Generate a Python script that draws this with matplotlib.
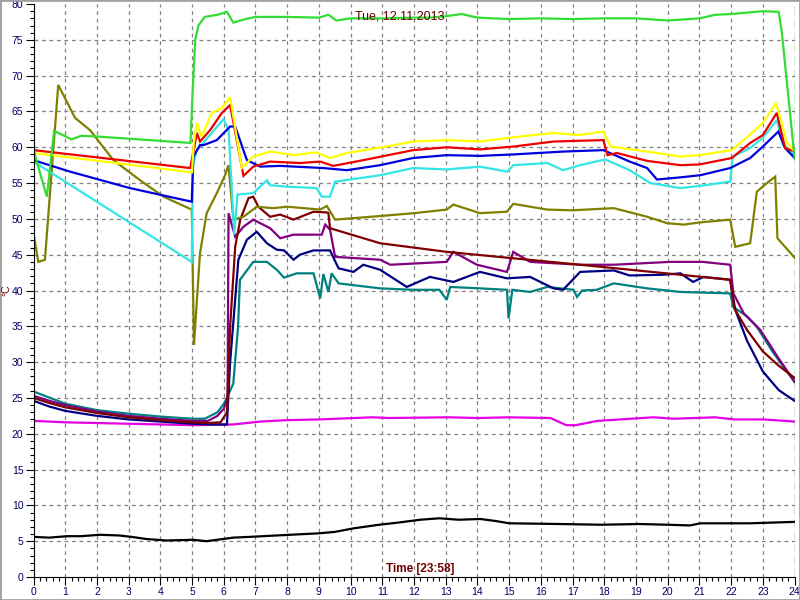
import matplotlib
matplotlib.use("Agg")
import matplotlib.pyplot as plt
from matplotlib.ticker import MultipleLocator
from matplotlib.patches import Rectangle

# temperature log, hours 0..24
green_x = [0, 0.42, 0.65, 1.2, 1.5, 2.0, 3.0, 4.0, 4.95, 5.02, 5.1, 5.2, 5.4, 5.8, 6.1, 6.3, 6.6, 7.0, 8.0, 9.0, 9.3, 9.55, 10, 11, 12, 12.5, 13, 13.5, 14, 15, 16, 17, 18, 19, 20, 21, 21.5, 22, 22.5, 23, 23.5, 23.6, 24]
green_y = [59.6, 53.1, 62.3, 61.1, 61.6, 61.5, 61.2, 60.9, 60.6, 68, 75, 77, 78.2, 78.5, 78.9, 77.4, 77.8, 78.2, 78.2, 78.1, 78.5, 77.7, 78, 78, 78.1, 78.1, 78.3, 78.6, 78.1, 77.9, 78, 77.9, 78, 78, 77.7, 78, 78.5, 78.6, 78.8, 79, 78.9, 76, 58.5]

yellow_x = [0, 5.0, 5.05, 5.15, 5.3, 5.62, 5.94, 6.2, 6.57, 6.93, 7.46, 8.2, 8.9, 9.35, 9.88, 11.0, 11.97, 13.03, 14.08, 15.13, 16.4, 17.2, 17.97, 18.2, 19.35, 20.4, 21.0, 22.02, 22.4, 23.0, 23.42, 23.76, 24.0]
yellow_y = [59.2, 56.5, 60.5, 63.4, 61.5, 64.8, 65.5, 67.0, 57.1, 58.7, 59.4, 58.9, 59.3, 58.5, 59.2, 60.0, 60.8, 61.0, 60.8, 61.4, 62.0, 61.7, 62.2, 60.1, 59.4, 58.7, 58.9, 59.6, 61.0, 63.4, 66.2, 60.6, 59.4]

red_x = [0, 4.94, 5.05, 5.15, 5.25, 5.57, 5.94, 6.2, 6.62, 6.93, 7.46, 8.4, 9.04, 9.45, 10.4, 11.97, 13.03, 14.08, 15.13, 16.4, 17.97, 18.1, 18.4, 19.35, 20.4, 21.0, 22.02, 22.6, 23.0, 23.44, 23.7, 24.0]
red_y = [59.6, 57.1, 59.5, 62.0, 60.8, 62.4, 64.8, 65.9, 56.0, 57.3, 58.0, 57.8, 58.0, 57.4, 58.2, 59.6, 60.0, 59.7, 60.1, 60.8, 61.0, 58.9, 59.2, 58.1, 57.5, 57.6, 58.5, 60.6, 61.7, 64.8, 59.9, 59.4]

blue_x = [0, 1.15, 3.04, 4.99, 5.04, 5.25, 5.36, 5.78, 6.2, 6.36, 6.73, 7.15, 7.78, 9.14, 9.88, 10.93, 11.97, 13.03, 14.08, 15.13, 16.7, 17.97, 18.8, 19.35, 19.66, 20.4, 21.03, 21.97, 22.6, 23.0, 23.49, 23.7, 24.0]
blue_y = [58.2, 56.6, 54.3, 52.4, 58.7, 60.3, 60.3, 61.0, 62.9, 62.9, 58.2, 57.3, 57.4, 57.1, 56.8, 57.5, 58.5, 58.9, 58.8, 59.0, 59.4, 59.6, 58.0, 57.1, 55.5, 55.8, 56.1, 57.1, 58.5, 60.1, 62.2, 59.9, 58.5]

cyan_x = [0, 4.99, 5.03, 5.15, 5.99, 6.15, 6.33, 6.43, 6.93, 7.36, 7.46, 8.0, 8.93, 9.09, 9.35, 9.51, 10.93, 11.97, 13.03, 14.08, 14.93, 15.13, 16.2, 16.7, 17.24, 18.03, 18.8, 19.45, 20.4, 21.0, 21.97, 22.05, 22.6, 23.0, 23.44, 23.64, 24.0]
cyan_y = [58.0, 44.0, 57.5, 59.6, 63.9, 62.5, 47.8, 53.4, 53.6, 55.4, 54.7, 54.5, 54.3, 53.1, 53.1, 55.2, 56.1, 57.1, 56.9, 57.3, 56.6, 57.5, 57.8, 56.8, 57.5, 58.3, 56.8, 55.0, 54.3, 54.6, 55.2, 58.7, 59.9, 61.3, 63.8, 60.3, 58.9]

olive_x = [0, 0.15, 0.36, 0.78, 1.31, 1.78, 2.52, 3.36, 4.1, 4.99, 5.06, 5.25, 5.46, 5.78, 6.04, 6.15, 6.3, 6.62, 7.04, 7.56, 8.0, 9.04, 9.25, 9.51, 10.93, 12.0, 13.03, 13.24, 14.08, 14.93, 15.13, 16.2, 17.0, 18.3, 19.35, 19.98, 20.5, 21.0, 21.97, 22.13, 22.6, 22.81, 23.13, 23.39, 23.46, 24.0]
olive_y = [48.0, 44.0, 44.3, 68.7, 64.1, 62.4, 58.2, 55.4, 53.1, 51.3, 32.4, 45.2, 50.8, 53.6, 56.1, 57.5, 49.9, 50.3, 51.7, 51.5, 51.7, 51.3, 51.8, 49.9, 50.4, 50.8, 51.3, 52.0, 50.8, 51.0, 52.1, 51.3, 51.2, 51.5, 50.3, 49.4, 49.2, 49.5, 49.9, 46.1, 46.6, 53.8, 55.0, 55.9, 47.3, 44.6]

maroon_x = [0, 0.5, 1, 2, 3, 4, 5, 5.5, 5.9, 6.1, 6.2, 6.36, 6.52, 6.78, 6.93, 7.09, 7.46, 7.78, 8.2, 8.83, 9.25, 9.3, 9.35, 10.93, 13.03, 15.13, 17.24, 20.4, 21.97, 22.1, 22.5, 23, 23.5, 24]
maroon_y = [25.0, 24.3, 23.7, 22.9, 22.3, 21.9, 21.6, 21.5, 21.6, 23, 35, 46.1, 49.9, 52.9, 53.1, 51.7, 50.3, 50.6, 49.9, 51.0, 50.9, 50.8, 48.7, 46.6, 45.4, 44.5, 43.6, 42.2, 41.5, 37.5, 34.5, 31.5, 29.5, 27.8]

purple_x = [0, 0.5, 1, 2, 3, 4, 5, 5.5, 5.8, 6.0, 6.12, 6.15, 6.36, 6.62, 6.93, 7.15, 7.46, 7.78, 8.2, 9.09, 9.2, 9.35, 9.51, 10.93, 11.25, 13.03, 13.24, 13.98, 14.93, 15.13, 15.66, 17.24, 18.3, 20.08, 21.1, 21.97, 22.07, 22.4, 22.92, 23.5, 24]
purple_y = [25.3, 24.6, 24.0, 23.1, 22.5, 22.1, 21.8, 21.8, 22.5, 23.5, 25, 50.8, 47.5, 48.9, 49.9, 49.4, 48.7, 47.3, 47.8, 47.8, 49.2, 48.5, 44.7, 44.3, 43.6, 44.0, 45.4, 43.6, 42.6, 45.4, 44.0, 43.6, 43.6, 44.0, 44.0, 43.6, 39.6, 36.8, 34.5, 30.5, 27.3]

navy_x = [0, 0.5, 1, 2, 3, 4, 5, 5.5, 6.1, 6.2, 6.46, 6.73, 7.04, 7.36, 7.67, 7.9, 8.2, 8.4, 8.83, 9.35, 9.62, 10.09, 10.4, 10.93, 11.77, 12.5, 13.24, 14.08, 14.93, 15.66, 16.4, 16.7, 17.24, 18.3, 18.8, 19.87, 20.4, 20.8, 21.13, 21.97, 22.13, 22.5, 23.0, 23.5, 24.0]
navy_y = [24.6, 23.8, 23.2, 22.5, 22.0, 21.7, 21.4, 21.3, 21.3, 30, 44.3, 47.1, 48.2, 46.6, 45.7, 45.6, 44.3, 45.0, 45.6, 45.6, 43.1, 42.6, 43.6, 42.9, 40.5, 41.9, 41.2, 42.6, 41.7, 41.9, 40.3, 40.1, 42.6, 42.8, 42.1, 42.2, 42.4, 41.2, 41.9, 41.5, 37.3, 33.0, 28.7, 26.1, 24.6]

teal_x = [0, 1, 2, 3, 4, 5, 5.4, 5.8, 6.02, 6.3, 6.45, 6.51, 6.93, 7.36, 7.67, 7.9, 8.3, 8.83, 9.04, 9.14, 9.3, 9.4, 9.62, 10.93, 11.97, 12.8, 13.03, 13.14, 14.08, 14.93, 14.98, 15.1, 15.66, 16.2, 17.03, 17.14, 17.3, 17.76, 18.3, 19.35, 20.4, 21.97, 22.07, 22.5, 22.8, 23.3, 24.0]
teal_y = [25.9, 24.2, 23.3, 22.8, 22.4, 22.1, 22.1, 23.0, 24.3, 27.0, 35.0, 41.5, 44.0, 44.0, 42.9, 41.8, 42.4, 42.4, 38.9, 42.3, 39.8, 42.4, 41.0, 40.3, 40.1, 40.1, 38.7, 40.5, 40.3, 40.1, 36.1, 40.1, 39.8, 40.5, 40.1, 39.1, 40.0, 40.1, 41.0, 40.3, 39.8, 39.6, 37.7, 36.4, 35.0, 31.5, 27.2]

magenta_x = [0, 1, 2, 3, 4, 5.06, 6.3, 7.15, 7.96, 9, 10.69, 11.2, 13.1, 14, 15, 16.3, 16.8, 17.1, 17.78, 19.55, 20.2, 21.5, 22.1, 23, 23.7, 24]
magenta_y = [21.8, 21.6, 21.5, 21.4, 21.3, 21.2, 21.3, 21.7, 21.9, 22.0, 22.3, 22.2, 22.3, 22.2, 22.3, 22.2, 21.2, 21.2, 21.8, 22.3, 22.1, 22.3, 22.0, 22.0, 21.8, 21.7]

black_x = [0, 0.5, 1.05, 1.5, 2.1, 2.7, 3.1, 3.57, 4.2, 5.04, 5.45, 6.3, 6.8, 8.1, 9.0, 9.5, 10.1, 10.9, 11.5, 12.2, 12.8, 13.4, 14.1, 14.6, 15.0, 16.6, 17.9, 19.1, 20, 20.7, 21.03, 22.6, 24.0]
black_y = [5.6, 5.5, 5.7, 5.7, 5.9, 5.8, 5.6, 5.3, 5.1, 5.2, 5.0, 5.5, 5.6, 5.9, 6.1, 6.3, 6.8, 7.3, 7.6, 8.0, 8.2, 8.0, 8.1, 7.8, 7.5, 7.4, 7.3, 7.4, 7.3, 7.2, 7.5, 7.5, 7.7]

title = "Tue, 12.11.2013"
xlabel = "Time [23:58]"
ylabel = "°C"

series = [
    (black_x, black_y, "#000000"),
    (magenta_x, magenta_y, "#e600e6"),
    (teal_x, teal_y, "#008080"),
    (navy_x, navy_y, "#000080"),
    (purple_x, purple_y, "#800080"),
    (maroon_x, maroon_y, "#800000"),
    (olive_x, olive_y, "#808000"),
    (cyan_x, cyan_y, "#33e6e6"),
    (blue_x, blue_y, "#0000dd"),
    (red_x, red_y, "#ee0000"),
    (yellow_x, yellow_y, "#ffff00"),
    (green_x, green_y, "#33dd33"),
]

plt.rcParams["font.family"] = ["Liberation Sans", "DejaVu Sans"]

fig = plt.figure(figsize=(8, 6), dpi=100)
ax = fig.add_axes([0.0419, 0.0383, 0.9513, 0.955])

for xs, ys, c in series:
    ax.plot(xs, ys, color=c, lw=1.6, solid_joinstyle="miter")

ax.set_xlim(0, 24)
ax.set_ylim(0, 80)
ax.xaxis.set_major_locator(MultipleLocator(1))
ax.xaxis.set_minor_locator(MultipleLocator(0.2))
ax.yaxis.set_major_locator(MultipleLocator(5))
ax.yaxis.set_minor_locator(MultipleLocator(1))
# tick sizes are in points (1 pt = 1.39 px here)
ax.tick_params(which="major", direction="out", length=5.8, width=0.8, color="black",
               labelcolor="#000066", labelsize=7.5, pad=1.5)
ax.tick_params(which="minor", direction="out", length=2.7, width=0.8, color="black")

# dashed grid, skipping the edges
for v in range(1, 24):
    ax.axvline(v, color="#808080", lw=0.9, ls=(0, (3, 3)), zorder=0)
for v in range(5, 80, 5):
    ax.axhline(v, color="#808080", lw=0.9, ls=(0, (3, 3)), zorder=0)
ax.axvline(24, color="#008000", lw=1, ls=(0, (6, 3)))

ax.spines["top"].set_visible(False)
ax.spines["right"].set_visible(False)

fig.text(0.5, 0.972, title, color="#660000", fontsize=9, ha="center", va="center", zorder=10)
fig.text(0.525, 0.052, xlabel, color="#700000", fontsize=8.5, fontweight="bold", ha="center", va="center")
fig.text(0.008, 0.517, ylabel, color="#700000", fontsize=7.5, rotation=90, ha="center", va="center")

fig.patches.append(Rectangle((0, 0), 1, 1, transform=fig.transFigure, fill=False,
                             edgecolor="#a0a0a0", lw=2))

fig.savefig("out.png", dpi=100)
